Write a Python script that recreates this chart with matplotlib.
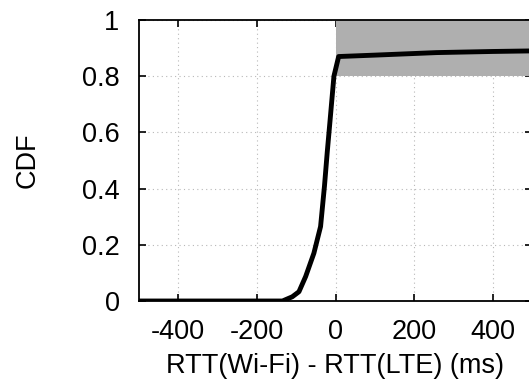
import numpy as np
import matplotlib.pyplot as plt

plt.rcParams['font.family'] = ['Liberation Sans', 'DejaVu Sans']
plt.rcParams['axes.unicode_minus'] = False

# curva: diferencia de RTT (ms) vs CDF
rtt_diff = [-500, -135, -110, -93, -76, -55, -38, -28, -21, -14, -4, 8, 100, 257, 400, 500]
cdf = [0.0, 0.0, 0.015, 0.033, 0.087, 0.17, 0.265, 0.41, 0.53, 0.64, 0.80, 0.87, 0.875, 0.884, 0.888, 0.89]

xticks = [-400, -200, 0, 200, 400]
yticks = [0, 0.2, 0.4, 0.6, 0.8, 1]
ytick_labels = ['0', '0.2', '0.4', '0.6', '0.8', '1']

# zona sombreada (Wi-Fi mas lento, CDF > 0.8)
shade_x = [0, 500]
shade_lo = 0.8
shade_hi = 1.0

fig = plt.figure(figsize=(5.29, 3.85), dpi=100)
ax = fig.add_axes([139/529, 1-301/385, (532-139)/529, (301-20)/385])

ax.fill_between(shade_x, shade_lo, shade_hi, color='#afafaf', lw=0, zorder=1)
ax.grid(True, ls=(0, (1, 3)), color='#b8b8b8', lw=0.8, zorder=0)
ax.set_axisbelow(True)
ax.plot(rtt_diff, cdf, color='black', lw=3.5, zorder=3, solid_joinstyle='round')

ax.set_xlim(-500, 500)
ax.set_ylim(0, 1)
ax.set_xticks(xticks)
ax.set_yticks(yticks)
ax.set_yticklabels(ytick_labels)
ax.tick_params(direction='in', length=5, width=1.2, labelsize=19.5, top=True, right=True)
ax.tick_params(axis='x', pad=13)
ax.tick_params(axis='y', pad=14)
for s in ax.spines.values():
    s.set_linewidth(1.3)

ax.set_xlabel('RTT(Wi-Fi) - RTT(LTE) (ms)', fontsize=19.5, labelpad=6)
ax.set_ylabel('CDF', fontsize=19.5, labelpad=30)

fig.savefig('out.png', dpi=100)
